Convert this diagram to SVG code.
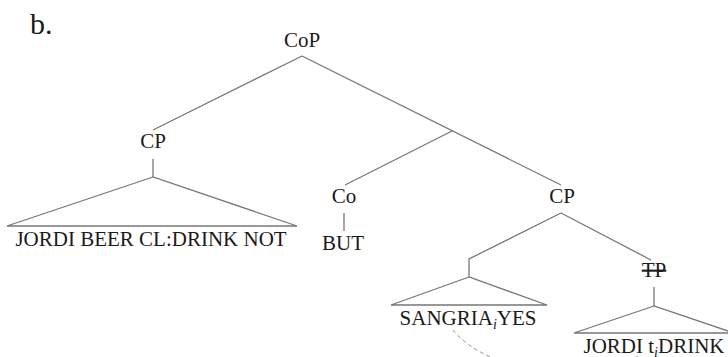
<svg xmlns="http://www.w3.org/2000/svg" width="728" height="357" viewBox="0 0 728 357">
<style>
text{font-family:"Liberation Serif","Times New Roman",serif;font-size:21px;fill:#1a1a1a;text-anchor:middle}
.sub{font-size:14px;font-style:italic}
.e{fill:none;stroke:#777;stroke-width:1.3}
.d{fill:none;stroke:#999;stroke-width:1;stroke-dasharray:4 3}
</style>
<rect width="728" height="357" fill="#fff"/>
<text x="30" y="34" style="font-size:30px;text-anchor:start">b.</text>
<g id="edges">
<path class="e" d="M302,56 L153,130"/>
<path class="e" d="M302,56 L561,185"/>
<path class="e" d="M452,131 L345,185"/>
<path class="e" d="M153,159 L153,177"/>
<path class="e" d="M153,177 L7,226 L297,226 Z"/>
<path class="e" d="M344,213 L344,231"/>
<path class="e" d="M561,213 L469,259 L469,277"/>
<path class="e" d="M469,277 L391,305 L547,305 Z"/>
<path class="e" d="M561,213 L651,260"/>
<path class="e" d="M654,287 L654,306"/>
<path class="e" d="M654,306 L574,333 L734,333 Z"/>
<path class="d" d="M453,330 C485,372 600,392 640,354"/>
</g>
<g id="n-cop"><text x="302" y="47">CoP</text></g>
<g id="n-cp1"><text x="153" y="148">CP</text></g>
<g id="n-cp1-tri"><text x="151" y="246">JORDI BEER CL:DRINK NOT</text></g>
<g id="n-co"><text x="344" y="203">Co</text></g>
<g id="n-but"><text x="343" y="250">BUT</text></g>
<g id="n-cp2"><text x="562" y="203">CP</text></g>
<g id="n-spec"><text x="468" y="325">SANGRIA<tspan class="sub" dy="4">i</tspan><tspan dy="-4">YES</tspan></text></g>
<g id="n-tp"><text x="654" y="277" text-decoration="line-through">TP</text></g>
<g id="n-tp-tri"><text x="654" y="353">JORDI t<tspan class="sub" dy="4">i</tspan><tspan dy="-4">DRINK</tspan></text></g>
</svg>
